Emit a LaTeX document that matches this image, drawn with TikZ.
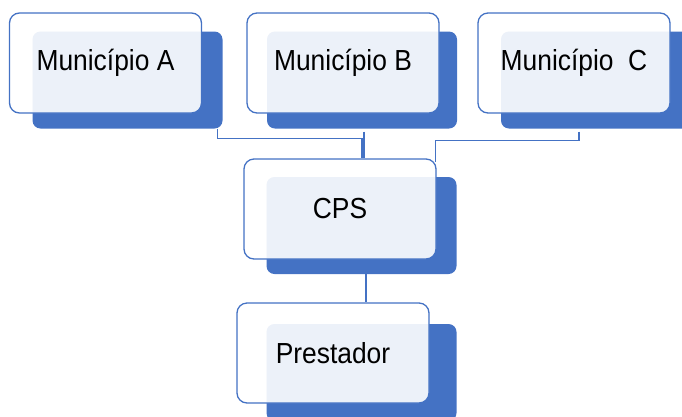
\documentclass[tikz,border=0pt]{standalone}
\usepackage{fontspec}
\usetikzlibrary{backgrounds}
\newfontfamily\boxfont{Liberation Sans}[FakeStretch=0.91]
\definecolor{accent}{HTML}{4472C4}
\begin{document}
\begin{tikzpicture}[x=1pt,y=-1pt,
  backbox/.style={rectangle, rounded corners=8pt, fill=accent, draw=none,
    minimum width=190pt, minimum height=97pt, inner sep=0pt},
  frontbox/.style={rectangle, rounded corners=10pt, draw=accent, line width=1.3pt,
    fill=white, fill opacity=0.9, text opacity=1, text=black,
    minimum width=192pt, minimum height=100pt, inner sep=0pt,
    font=\boxfont\fontsize{29}{34}\selectfont},
  conn/.style={draw=accent, line width=1.2pt}]
\clip (0,0) rectangle (682,416);

% front boxes
\node[frontbox] (a)     at (105.5,63) {Município A};
\node[frontbox] (b)     at (343,63)   {Município B};
\node[frontbox] (c)     at (574,63)   {Município\ \ C};
\node[frontbox] (cps)   at (340,209)  {CPS};
\node[frontbox] (prest) at (333,353)  {Prestador};

\begin{pgfonlayer}{background}
  % shadow plates behind each box
  \node[backbox] (aback)     at (127.5,80)    {};
  \node[backbox] (bback)     at (362,80)      {};
  \node[backbox] (cback)     at (596,80)      {};
  \node[backbox] (cpsback)   at (361.5,225.5) {};
  \node[backbox] (prestback) at (361.5,372.5) {};

  % connectors
  \draw[conn] ([xshift=-5pt]aback.south east) -- ++(0,10) -| ([xshift=22pt]cps.north);
  \draw[conn] ([xshift=2pt,yshift=-3pt]bback.south) -- ([xshift=2pt]bback.south |- cps.north);
  \draw[conn] ([xshift=-17pt,yshift=-3pt]cback.south) -- ++(0,9) -| ([xshift=-1pt,yshift=-4pt]cps.north east);
  \draw[conn] ([xshift=4.5pt]cpsback.south) -- ([xshift=4.5pt]cpsback.south |- prest.north);
\end{pgfonlayer}
\end{tikzpicture}
\end{document}
